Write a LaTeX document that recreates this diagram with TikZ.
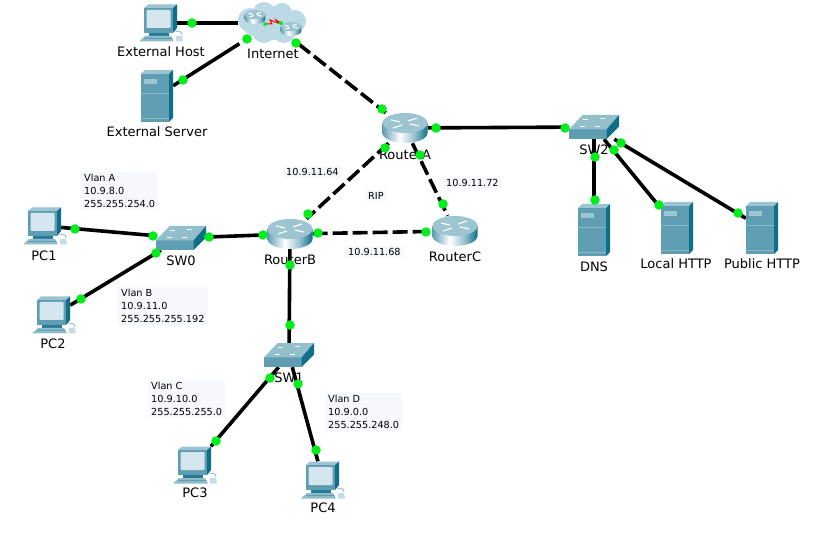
\documentclass[tikz,border=0pt]{standalone}
\usepackage{fontspec}
\setmainfont{DejaVu Sans}
\definecolor{tealfront}{HTML}{5F9DB2}
\definecolor{tealtop}{HTML}{9CC4D1}
\definecolor{tealside}{HTML}{0E6F88}
\definecolor{screenblue}{HTML}{D6E6EE}
\definecolor{cloudblue}{HTML}{BBDAE6}
\definecolor{labelbg}{HTML}{F6F8FE}
\definecolor{portgreen}{HTML}{00EE1A}
\pgfdeclarehorizontalshading{rtrbody}{100bp}{color(0bp)=(tealfront);color(25bp)=(tealfront);
  color(44bp)=(white);color(60bp)=(tealtop);color(75bp)=(tealside);color(100bp)=(tealside)}
\tikzset{
  link/.style={black, line width=3.6pt},
  dashlink/.style={link, dash pattern=on 15pt off 5pt},
  port/.style={circle, fill=portgreen, inner sep=0pt, minimum size=9.5pt},
  devlabel/.style={inner sep=0pt, font=\fontsize{13}{15}\selectfont},
  netlabel/.style={anchor=north west, fill=labelbg, align=left, inner xsep=3pt, inner ysep=2pt,
    font=\fontsize{9.7}{13}\selectfont},
  pcbox/.style={inner sep=0pt, minimum width=32pt, minimum height=37pt},
  srvbox/.style={inner sep=0pt, minimum width=32pt, minimum height=52pt},
  rtrbox/.style={inner sep=0pt, minimum width=45pt, minimum height=30pt},
  swbox/.style={inner sep=0pt, minimum width=50pt, minimum height=24pt},
  cloudbox/.style={inner sep=0pt, minimum width=68pt, minimum height=41pt},
  pcicon/.pic={
    \fill [tealfront] (-17,-15) rectangle (12,10);
    \fill [tealtop] (-17,-15) -- (-13,-18.5) -- (16,-18.5) -- (12,-15) -- cycle;
    \fill [tealside] (12,-15) -- (16,-18.5) -- (16,5) -- (12,10) -- cycle;
    \fill [screenblue, rounded corners=1pt] (-14.5,-13) rectangle (9.5,5);
    \fill [tealside!70!tealfront] (-12,10) rectangle (8,13);
    \fill [tealtop!80!tealfront] (-16,13) -- (10,13) -- (13,18.5) -- (-22,18.5) -- cycle;
    \fill [tealfront] (-16,15) -- (11,15) -- (11.5,16) -- (-17,16) -- cycle;
    \draw [tealtop, line width=1pt] (14,8) -- (20,9) -- (21,12);
    \fill [screenblue!70!tealtop] (15,13) -- (21,13) -- (22,18.5) -- (15,18.5) -- cycle;
  },
  srvicon/.pic={
    \fill [tealfront] (-16,-22) rectangle (12,26);
    \fill [tealtop] (-16,-22) -- (-12,-26) -- (16,-26) -- (12,-22) -- cycle;
    \fill [tealside] (12,-22) -- (16,-26) -- (16,22) -- (12,26) -- cycle;
    \fill [tealtop] (-13,-17) rectangle (0,-12);
    \draw [tealtop!70!tealfront, line width=0.8pt] (-16,-3) -- (12,-3);
    \draw [tealtop!70!tealfront, line width=0.8pt] (-16,22.5) -- (12,22.5);
  },
  rtricon/.pic={
    \shade [shading=rtrbody]
      (-22.5,-5) -- (-22.5,5) arc (180:0:22.5 and 10) -- (22.5,-5) -- cycle;
    \fill [tealtop] (0,-5) ellipse (22.5 and 10);
    \draw [white, line width=1.2pt] (-14,-8) -- (-5,-6) (14,-2) -- (5,-4)
      (-12,0) -- (-3,-3) (12,-10) -- (3,-7);
  },
  swicon/.pic={
    \fill [tealfront] (-25,2.3) rectangle (12.7,12);
    \fill [tealtop!85!tealfront] (-25,2.3) -- (-11.3,-12) -- (25,-12) -- (12.7,2.3) -- cycle;
    \fill [tealside] (12.7,2.3) -- (25,-12) -- (25,-0.3) -- (12.7,12) -- cycle;
    \draw [white, line width=0.8pt] (-11,-8) -- (-6,-8) (6,-9) -- (11,-9)
      (-14,-1) -- (-9,-1) (1,-1) -- (6,-1);
  },
  cloudicon/.pic={
    \fill [cloudblue] (0,0) ellipse (31 and 17) (-22,-3) circle (12) (-8,-10) circle (11)
      (10,-10) circle (10) (23,-2) circle (11) (12,8) circle (12) (-8,8) circle (12);
    \pic [scale=0.46] at (-17,-6) {rtricon};
    \pic [scale=0.46] at (19,6) {rtricon};
    \draw [red, line width=1pt] (-5,1) -- (0,1) -- (-2,-3) -- (6,0) -- (4,-3) -- (9,0);
    \fill [portgreen] (-7,1) circle (2) (9,0) circle (2);
  }
}
\begin{document}
\begin{tikzpicture}[x=1pt,y=-1pt]
    \useasboundingbox (0,0) rectangle (816,534);
    \fill [white] (0,0) rectangle (816,534);

    \node [pcbox] (ExtHost) at (161,23) {};
    \node [srvbox] (ExtServer) at (157,96) {};
    \node [cloudbox] (Internet) at (272,23) {};
    \node [rtrbox] (RouterA) at (405,128) {};
    \node [rtrbox] (RouterB) at (290,234) {};
    \node [rtrbox] (RouterC) at (455,231) {};
    \node [swbox] (SW0) at (181,238) {};
    \node [swbox] (SW1) at (289,355) {};
    \node [swbox] (SW2) at (594,127) {};
    \node [pcbox] (PC1) at (45,226) {};
    \node [pcbox] (PC2) at (54,315) {};
    \node [pcbox] (PC3) at (195,465) {};
    \node [pcbox] (PC4) at (323,480) {};
    \node [srvbox] (DNS) at (594,230) {};
    \node [srvbox] (LocalHTTP) at (677,228) {};
    \node [srvbox] (PublicHTTP) at (762,228) {};

    \draw [link] (ExtHost) -- (Internet);
    \draw [link] (ExtServer) -- (Internet);
    \draw [dashlink] (Internet) -- (RouterA);
    \draw [link] (RouterA) -- (SW2);
    \draw [dashlink] (RouterA) -- (RouterB);
    \draw [dashlink] (RouterA) -- (RouterC);
    \draw [dashlink] (RouterB) -- (RouterC);
    \draw [link] (SW0) -- (RouterB);
    \draw [link] (RouterB) -- (SW1);
    \draw [link] (PC1) -- (SW0);
    \draw [link] (PC2) -- (SW0);
    \draw [link] (SW1) -- (PC3);
    \draw [link] (SW1) -- (PC4);
    \draw [link] (SW2) -- (DNS);
    \draw [link] (SW2) -- (LocalHTTP);
    \draw [link] (SW2) -- (PublicHTTP);

    \foreach \nm in {ExtHost,PC1,PC2,PC3,PC4}
      \pic at (\nm) {pcicon};
    \foreach \nm in {ExtServer,DNS,LocalHTTP,PublicHTTP}
      \pic at (\nm) {srvicon};
    \foreach \nm in {RouterA,RouterB,RouterC}
      \pic at (\nm) {rtricon};
    \foreach \nm in {SW0,SW1,SW2}
      \pic at (\nm) {swicon};
    \pic at (Internet) {cloudicon};

    \node [devlabel] (ExtHostText) at (161,52) {External Host};
    \node [devlabel] (ExtServerText) at (157,132) {External Server};
    \node [devlabel] (InternetText) at (273,54) {Internet};
    \node [devlabel] (RouterAText) at (405,155) {RouterA};
    \node [devlabel] (RouterBText) at (290,260) {RouterB};
    \node [devlabel] (RouterCText) at (455,257) {RouterC};
    \node [devlabel] (SW0Text) at (181,261) {SW0};
    \node [devlabel] (SW1Text) at (289,378) {SW1};
    \node [devlabel] (SW2Text) at (594,150) {SW2};
    \node [devlabel] (PC1Text) at (44,256) {PC1};
    \node [devlabel] (PC2Text) at (53,344) {PC2};
    \node [devlabel] (PC3Text) at (195,493) {PC3};
    \node [devlabel] (PC4Text) at (323,508) {PC4};
    \node [devlabel] (DNSText) at (594,267) {DNS};
    \node [devlabel] (LocalText) at (676,264) {Local HTTP};
    \node [devlabel] (PublicText) at (762,264) {Public HTTP};

    \node [netlabel] (VlanA) at (81,172) {Vlan A\\10.9.8.0\\255.255.254.0};
    \node [netlabel] (VlanB) at (118,287) {Vlan B\\10.9.11.0\\255.255.255.192};
    \node [netlabel] (VlanC) at (148,380) {Vlan C\\10.9.10.0\\255.255.255.0};
    \node [netlabel] (VlanD) at (325,393) {Vlan D\\10.9.0.0\\255.255.248.0};
    \node [netlabel] (NetAB) at (283,166) {10.9.11.64};
    \node [netlabel] (NetRip) at (365,190) {RIP};
    \node [netlabel] (NetBC) at (345,246) {10.9.11.68};
    \node [netlabel] (NetAC) at (443,177) {10.9.11.72};

    \foreach \px/\py [count=\n] in {192/23,183/80,247/39,296/43,382/109,436/128,565/128,
        385/148,308/214,420/155,443/204,318/233,426/232,209/237,263/235,
        75/229,153/236,81/299,156/253,290/265,290/325,270/378,216/441,298/384,316/450,
        595/157,595/200,614/150,659/205,621/143,738/213}
      \node [port] (port\n) at (\px,\py) {};
\end{tikzpicture}
\end{document}
